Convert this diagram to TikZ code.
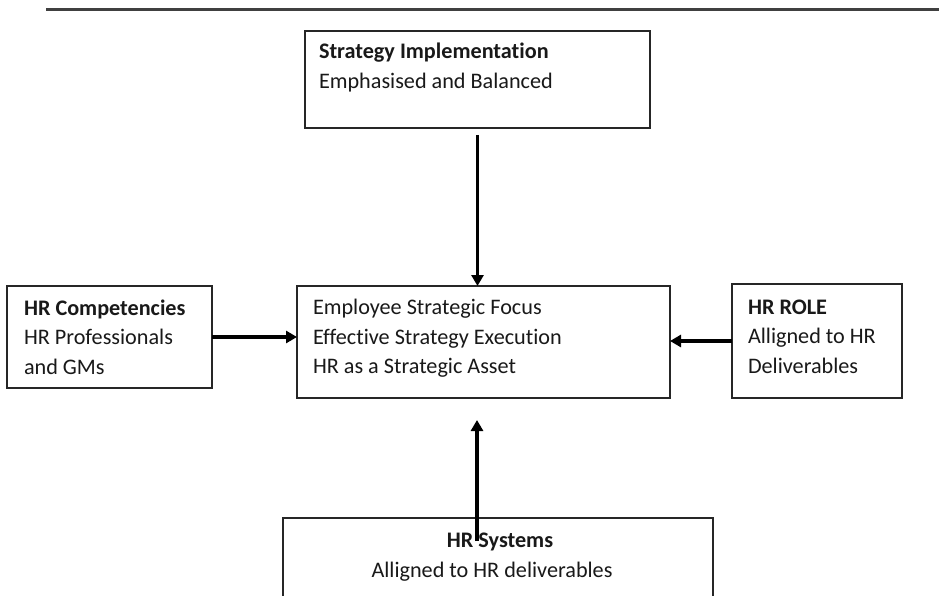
\documentclass[tikz,border=0pt]{standalone}
\usepackage{fontspec}
\setmainfont[Ligatures=NoCommon]{Carlito}
\usetikzlibrary{arrows.meta,calc}

\tikzset{
  box/.style={draw=black!85, line width=1.8pt, minimum width=#1, inner sep=0pt, outer sep=0pt},
  label/.style={inner sep=0pt, outer sep=0pt, anchor=base west, font=\fontsize{22.2}{29.5}\selectfont, text=black!90},
  heading/.style={label, font=\fontsize{22.2}{29.5}\selectfont\bfseries},
  link/.style={line width=3.6pt, -{Triangle[length=11pt,width=12pt]}},
}

\begin{document}
\begin{tikzpicture}[x=1pt,y=-1pt]
  \clip (0,0) rectangle (939,596);
  \fill[white] (0,0) rectangle (939,596);

  % rule along the top
  \draw[line width=3pt, black!75] (46,10) -- (939,10);

  % boxes
  \node[box=345pt, minimum height=97pt]  (strat) at (477.5,79.5) {};
  \node[box=205pt, minimum height=102pt] (comp)  at (109.5,337) {};
  \node[box=373pt, minimum height=112pt] (focus) at (483.5,342) {};
  \node[box=170pt, minimum height=114pt] (role)  at (817,341) {};
  \node[box=430pt, minimum height=140pt] (sys)   at (498,588) {};

  % box texts
  \node[heading] (strat1) at (319,59)   {Strategy Implementation};
  \node[label]   (strat2) at (319,88.5) {Emphasised and Balanced};

  \node[heading] (comp1) at (24,315)   {HR Competencies};
  \node[label]   (comp2) at (24,344.5) {HR Professionals};
  \node[label]   (comp3) at (24,374)   {and GMs};

  \node[label] (focus1) at (313,314.5) {Employee Strategic Focus};
  \node[label] (focus2) at (313,344)   {Effective Strategy Execution};
  \node[label] (focus3) at (313,373.5) {HR as a Strategic Asset};

  \node[heading] (role1) at (748,314)   {HR ROLE};
  \node[label]   (role2) at (748,343.5) {Alligned to HR};
  \node[label]   (role3) at (748,373)   {Deliverables};

  \node[heading, anchor=base] (sys1) at (500,547) {HR Systems};
  \node[label, anchor=base]   (sys2) at (492,577) {Alligned to HR deliverables};

  % connectors
  \draw[link, shorten <=7pt] (strat.south) -- (strat.south |- focus.north);
  \draw[link] (comp.east) -- (comp.east -| focus.west);
  \draw[link] (role.west) -- (role.west -| focus.east);
  \coordinate (sysfoot) at (477,541);
  \draw[link, shorten >=22pt] (sysfoot) -- (sysfoot |- focus.south);
\end{tikzpicture}
\end{document}
